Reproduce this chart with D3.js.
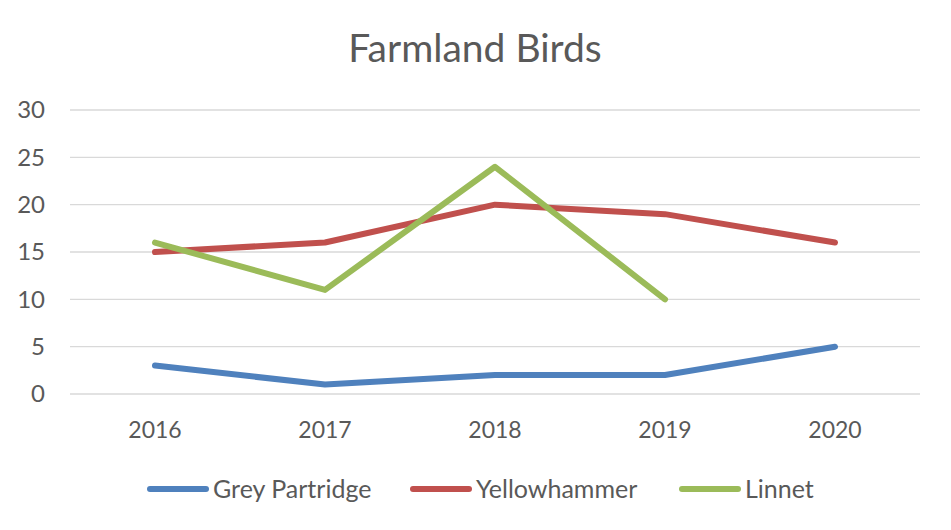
<!DOCTYPE html>
<html>
<head>
<meta charset="utf-8">
<script src="https://cdn.jsdelivr.net/npm/d3@7"></script>
<style>
  body { margin: 0; background: #fff; }
  text { font-family: Lato, "Open Sans", sans-serif; fill: #595959; }
</style>
</head>
<body>
<svg id="chart"></svg>
<script>
const years = ['2016', '2017', '2018', '2019', '2020']
const greyPartridge = [3, 1, 2, 2, 5]
const yellowhammer = [15, 16, 20, 19, 16]
const linnet = [16, 11, 24, 10, null]
const yTicks = [0, 5, 10, 15, 20, 25, 30]

const series = [
  { name: 'Grey Partridge', values: greyPartridge, color: '#4F81BD' },
  { name: 'Yellowhammer', values: yellowhammer, color: '#C0504D' },
  { name: 'Linnet', values: linnet, color: '#9BBB59' }
]

const width = 951
const height = 530
const svg = d3.select('#chart').attr('width', width).attr('height', height)

const x = d3.scalePoint().domain(years).range([70, 920]).padding(0.5)
const y = d3.scaleLinear().domain([0, 30]).range([394, 110])

// title
svg.append('text')
  .attr('x', 475).attr('y', 62)
  .attr('text-anchor', 'middle')
  .attr('font-size', '39px')
  .text('Farmland Birds')

// gridlines
svg.append('g')
  .selectAll('line')
  .data(yTicks)
  .enter().append('line')
  .attr('x1', 70).attr('x2', 920)
  .attr('y1', d => y(d)).attr('y2', d => y(d))
  .attr('stroke', '#d9d9d9')
  .attr('stroke-width', 1.3)

// y labels
svg.append('g')
  .selectAll('text')
  .data(yTicks)
  .enter().append('text')
  .attr('x', 45).attr('y', d => y(d))
  .attr('dy', '0.35em')
  .attr('text-anchor', 'end')
  .attr('font-size', '24px')
  .text(d => d)

// x labels
svg.append('g')
  .selectAll('text')
  .data(years)
  .enter().append('text')
  .attr('x', d => x(d)).attr('y', 430)
  .attr('dy', '0.35em')
  .attr('text-anchor', 'middle')
  .attr('font-size', '23px')
  .text(d => d)

const line = d3.line()
  .defined(d => d.v != null)
  .x(d => x(d.year))
  .y(d => y(d.v))

svg.append('g')
  .selectAll('path')
  .data(series)
  .enter().append('path')
  .attr('d', s => line(years.map((year, i) => ({ year, v: s.values[i] }))))
  .attr('fill', 'none')
  .attr('stroke', s => s.color)
  .attr('stroke-width', 6)
  .attr('stroke-linecap', 'round')
  .attr('stroke-linejoin', 'round')

// legend
const legendX = [147, 410, 679]
const legend = svg.append('g')
  .selectAll('g')
  .data(series)
  .enter().append('g')
  .attr('transform', (d, i) => `translate(${legendX[i]}, 489)`)

legend.append('line')
  .attr('x1', 3).attr('x2', 59)
  .attr('stroke', d => d.color)
  .attr('stroke-width', 6)
  .attr('stroke-linecap', 'round')

legend.append('text')
  .attr('x', 66)
  .attr('dy', '0.35em')
  .attr('font-size', '25px')
  .text(d => d.name)
</script>
</body>
</html>
